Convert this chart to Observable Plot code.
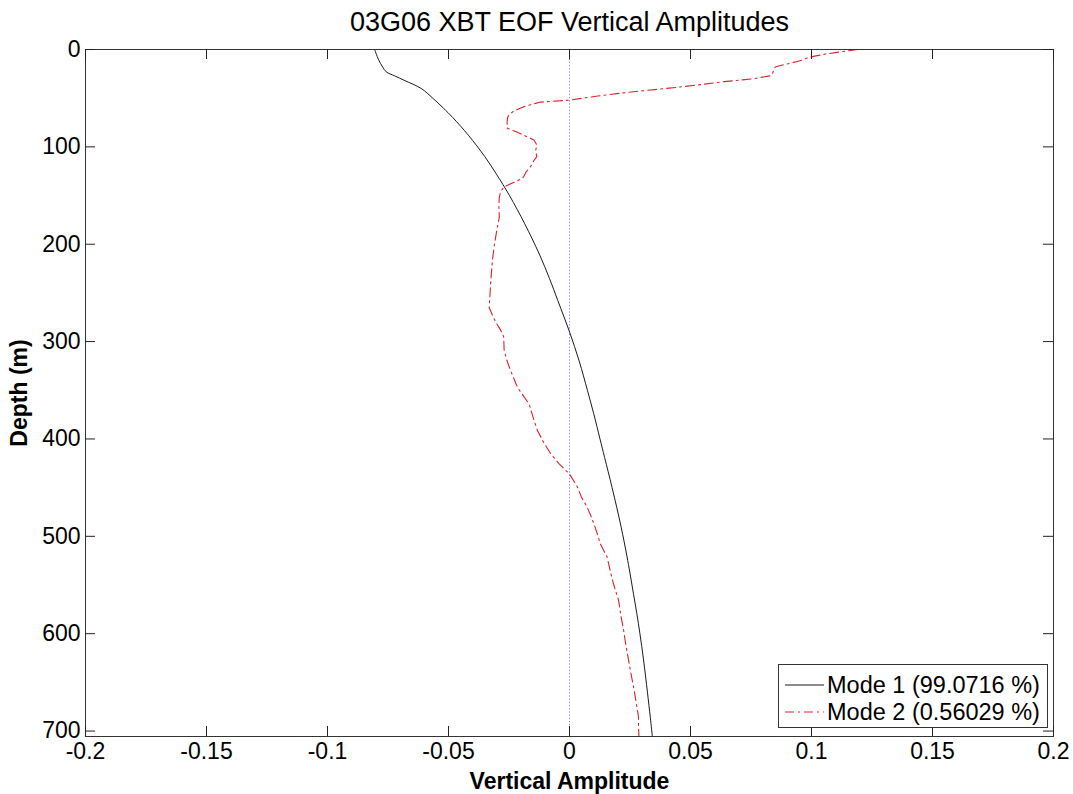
<!DOCTYPE html>
<html>
<head>
<meta charset="utf-8">
<script src="https://cdn.jsdelivr.net/npm/d3@7"></script>
<script src="https://cdn.jsdelivr.net/npm/@observablehq/plot@0.6"></script>
<style>
  html, body { margin: 0; padding: 0; background: white; }
  #wrap { position: relative; width: 1073px; height: 794px; font-family: "Liberation Sans", Arial, sans-serif; }
  #legend { position: absolute; left: 778px; top: 664px; width: 270px; height: 64px; border: 1px solid #333; background: white; box-sizing: border-box; }
</style>
</head>
<body>
<div id="wrap"></div>
<script>
const titleText = "03G06 XBT EOF Vertical Amplitudes";
const xLabel = "Vertical Amplitude";
const yLabel = "Depth (m)";
const seriesNames = ["Mode 1 (99.0716 %)", "Mode 2 (0.56029 %)"];
const xTicks = [-0.2, -0.15, -0.1, -0.05, 0, 0.05, 0.1, 0.15, 0.2];
const yTicks = [0, 100, 200, 300, 400, 500, 600, 700];

const depth1 = [0, 10, 18, 23, 27, 32, 40, 50, 60, 70, 88, 110, 128, 150, 179, 210, 235, 258, 290, 320, 350, 374, 400, 419, 450, 490, 520, 538, 560, 579, 600, 627, 660, 686, 705];
const mode1 = [-0.0805, -0.0790, -0.0772, -0.0757, -0.0723, -0.0680, -0.0613, -0.0565, -0.0522, -0.0482, -0.0418, -0.0350, -0.0302, -0.0248, -0.0185, -0.0125, -0.0083, -0.0048, 0.0000, 0.0040, 0.0074, 0.0100, 0.0126, 0.0145, 0.0176, 0.0213, 0.0237, 0.0250, 0.0265, 0.0278, 0.0291, 0.0306, 0.0322, 0.0334, 0.0342];

const depth2 = [0, 2, 5, 8, 11, 13, 16, 18, 20, 24, 27, 30, 33, 37, 40, 44, 48, 52, 54, 58, 63, 67, 70, 75, 81, 85, 89, 93, 98, 104, 110, 114, 120, 126, 131, 135, 138, 141, 146, 152, 160, 172, 185, 200, 215, 237, 250, 265, 272, 280, 288, 295, 309, 320, 330, 347, 364, 378, 391, 403, 415, 425, 436, 449, 460, 470, 480, 490, 497, 508, 521, 535, 549, 566, 581, 597, 612, 627, 641, 655, 670, 685, 696, 705];
const mode2 = [0.119, 0.113, 0.105, 0.099, 0.096, 0.093, 0.088, 0.085, 0.0845, 0.084, 0.083, 0.076, 0.064, 0.051, 0.040, 0.024, 0.011, 0.000, -0.012, -0.018, -0.0229, -0.025, -0.0256, -0.0258, -0.0256, -0.0215, -0.018, -0.0147, -0.0135, -0.0140, -0.0135, -0.0147, -0.0160, -0.0180, -0.0190, -0.0215, -0.0243, -0.0270, -0.0285, -0.0290, -0.0292, -0.0290, -0.0300, -0.0310, -0.0318, -0.0325, -0.0328, -0.0332, -0.0320, -0.0305, -0.0285, -0.0272, -0.0270, -0.0258, -0.0243, -0.0215, -0.0167, -0.0150, -0.0133, -0.0108, -0.0078, -0.0045, 0.0000, 0.0032, 0.0050, 0.0073, 0.0090, 0.0105, 0.0114, 0.0128, 0.0155, 0.0168, 0.0182, 0.0203, 0.0212, 0.0224, 0.0233, 0.0244, 0.0254, 0.0265, 0.0275, 0.0285, 0.0285, 0.0287];

const colors = ["#1a1a1a", "#e0202a"];
const dashes = [null, "9,4,2,4"];

const data1 = depth1.map((d, i) => ({depth: d, amp: mode1[i]}));
const data2 = depth2.map((d, i) => ({depth: d, amp: mode2[i]}));

const W = 1073, H = 794, mL = 85, mR = 20, mT = 49, mB = 58;
const fW = W - mL - mR, fH = H - mT - mB;
const font = '"Liberation Sans", Arial, sans-serif';

const chart = Plot.plot({
  width: W, height: H,
  marginLeft: mL, marginRight: mR, marginTop: mT, marginBottom: mB,
  style: {fontFamily: font, fontSize: "23px", background: "white", color: "#000"},
  x: {domain: [-0.2, 0.2], label: null},
  y: {domain: [0, 705.6], reverse: true, label: null},
  marks: [
    Plot.ruleX([0], {stroke: "#7878ff", strokeDasharray: "1.2,2"}),
    Plot.line(data2, {x: "amp", y: "depth", stroke: colors[1], strokeWidth: 1.1, strokeDasharray: dashes[1]}),
    Plot.line(data1, {x: "amp", y: "depth", stroke: colors[0], strokeWidth: 1, curve: "catmull-rom"}),
    Plot.frame({stroke: "#333"}),
    Plot.ruleX(xTicks, {insetTop: fH - 10, stroke: "#222"}),
    Plot.ruleX(xTicks, {insetBottom: fH - 10, stroke: "#222"}),
    Plot.ruleY(yTicks, {insetRight: fW - 10, stroke: "#222"}),
    Plot.ruleY(yTicks, {insetLeft: fW - 10, stroke: "#222"}),
    Plot.axisX({ticks: xTicks, tickSize: 0, tickPadding: 6, tickFormat: d => String(d), fontSize: 23, label: null}),
    Plot.axisY({ticks: yTicks, tickSize: 0, tickPadding: 5, tickFormat: d => String(d), fontSize: 23, label: null}),
    Plot.text([titleText], {text: d => d, frameAnchor: "top", lineAnchor: "middle", textAnchor: "middle", dy: -27, fontSize: 27}),
    Plot.text([xLabel], {text: d => d, frameAnchor: "bottom", lineAnchor: "middle", textAnchor: "middle", dy: 45, fontSize: 23, fontWeight: "bold"}),
    Plot.text([yLabel], {text: d => d, frameAnchor: "left", lineAnchor: "middle", textAnchor: "middle", dx: -66, rotate: -90, fontSize: 23, fontWeight: "bold"})
  ]
});

const wrap = document.getElementById("wrap");
wrap.appendChild(chart);

const legend = document.createElement("div");
legend.id = "legend";
const ns = "http://www.w3.org/2000/svg";
const lsvg = document.createElementNS(ns, "svg");
lsvg.setAttribute("width", 268);
lsvg.setAttribute("height", 62);
seriesNames.forEach((name, i) => {
  const y = 20 + i * 27;
  const line = document.createElementNS(ns, "line");
  line.setAttribute("x1", 6); line.setAttribute("x2", 45);
  line.setAttribute("y1", y); line.setAttribute("y2", y);
  line.setAttribute("stroke", colors[i]);
  if (dashes[i]) line.setAttribute("stroke-dasharray", dashes[i]);
  lsvg.appendChild(line);
  const t = document.createElementNS(ns, "text");
  t.setAttribute("x", 48); t.setAttribute("y", y);
  t.setAttribute("dy", "0.35em");
  t.setAttribute("font-size", 23.5);
  t.setAttribute("font-family", font);
  t.textContent = name;
  lsvg.appendChild(t);
});
legend.appendChild(lsvg);
wrap.appendChild(legend);
</script>
</body>
</html>
